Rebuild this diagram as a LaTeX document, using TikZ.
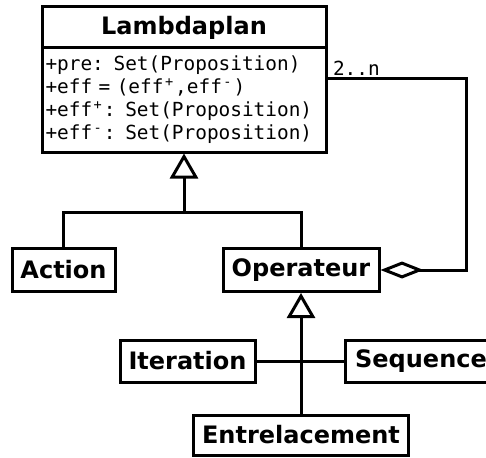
\documentclass[tikz,border=0pt]{standalone}
\usepackage{fontspec}
\setmainfont{DejaVu Sans}
\setmonofont{DejaVu Sans Mono}
\usetikzlibrary{arrows.meta, positioning, calc}

% mono font with fixed spaces, superscript sign filling one mono cell
\newcommand{\attrfont}{\fontsize{19.4}{23}\selectfont\ttfamily\spaceskip=0.602em plus 0pt minus 0pt\relax}
\newcommand{\supcell}[1]{\makebox[0.602em][c]{\textsuperscript{#1}}}

\begin{document}
\begin{tikzpicture}[
    x=1pt, y=-1pt,
    classnode/.style={draw, line width=3pt, inner sep=0pt, align=center, font=\fontsize{24}{28}\selectfont\bfseries},
    attrnode/.style={draw, line width=3pt, inner xsep=3.5pt, inner ysep=0pt, align=left, font=\attrfont},
    genarrow/.style={-{Triangle[open, fill=white, length=25pt, width=28pt]}, line width=3pt},
    aggarrow/.style={{Diamond[open, fill=white, length=43pt, width=17pt]}-, line width=3pt}
]
\useasboundingbox (0,0) rectangle (486,457);

% Nodes
\node[classnode, minimum width=284pt, minimum height=41pt] (lambda) at (184,27.5) {Lambdaplan};
\node[attrnode, minimum width=284pt, minimum height=104pt, text width=277pt, below=-3pt of lambda] (attrs)
    {+pre: Set(Proposition)\\
     +eff = (eff\supcell{+},eff\supcell{-})\\
     +eff\supcell{+}: Set(Proposition)\\
     +eff\supcell{-}: Set(Proposition)};
\node[classnode, minimum width=103pt, minimum height=43pt] (action) at (63.5,270) {Action};
\node[classnode, minimum width=156pt, minimum height=43pt] (operateur) at (301,270) {Operateur};
\node[classnode, minimum width=135pt, minimum height=42pt] (iteration) at (187.5,361) {Iteration};
\node[classnode, minimum width=152pt, minimum height=42pt] (sequence) at (421,361) {Sequence};
\node[classnode, minimum width=215pt, minimum height=40pt] (entrelacement) at (301,435) {Entrelacement};

\coordinate (gen1) at (184,212);
\coordinate (agg) at (466,79);

% Arrows
\draw[line width=3pt] (action.north) |- (gen1) -| (operateur.north);
\draw[genarrow] (gen1) -- (attrs.south);
\draw[line width=3pt] (iteration.east) -- (sequence.west);
\draw[genarrow] (entrelacement.north) -- (operateur.south);
\draw[aggarrow] (operateur.east) -| (agg) -- (agg -| attrs.east)
    node[pos=1, anchor=south west, inner sep=2pt, xshift=2pt, font=\attrfont] (mult) {2..n};

\end{tikzpicture}
\end{document}
